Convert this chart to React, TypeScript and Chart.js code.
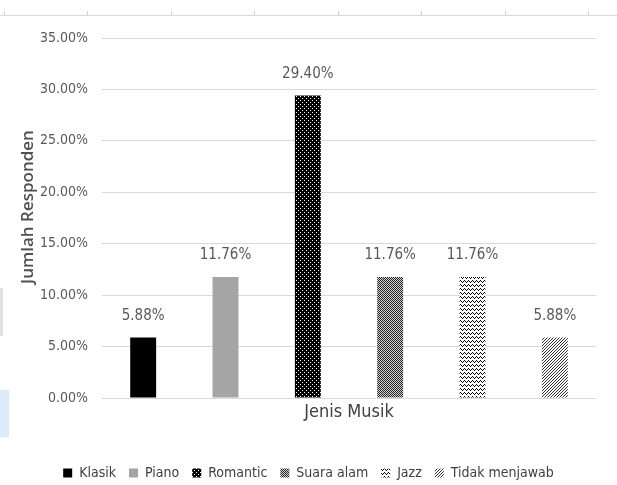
import React, { useEffect, useRef } from "react";
import { Chart, registerables } from "chart.js";

Chart.register(...registerables);

const categories = ["Jenis Musik"];
const seriesNames = ["Klasik", "Piano", "Romantic", "Suara alam", "Jazz", "Tidak menjawab"];
const seriesValues = [0.0588, 0.1176, 0.294, 0.1176, 0.1176, 0.0588];
const dataLabels = ["5.88%", "11.76%", "29.40%", "11.76%", "11.76%", "5.88%"];
const yMin = 0;
const yMax = 0.35;
const yStep = 0.05;
const yAxisTitle = "Jumlah Responden";

const NARROW = "'Liberation Sans Narrow', 'DejaVu Sans Condensed', sans-serif";

type Pt = [number, number];

function makeTile(
  ctx: CanvasRenderingContext2D,
  w: number,
  h: number,
  bg: string,
  fg: string,
  pts: Pt[]
): CanvasPattern | string {
  const c = document.createElement("canvas");
  c.width = w;
  c.height = h;
  const t = c.getContext("2d");
  if (!t) return fg;
  t.fillStyle = bg;
  t.fillRect(0, 0, w, h);
  t.fillStyle = fg;
  pts.forEach(([x, y]) => t.fillRect(x, y, 1, 1));
  return ctx.createPattern(c, "repeat") || fg;
}

function buildFills(ctx: CanvasRenderingContext2D) {
  return [
    "#000000",
    "#a5a5a5",
    makeTile(ctx, 4, 4, "#000000", "#ffffff", [
      [0, 0],
      [2, 2],
    ]),
    makeTile(ctx, 2, 2, "#d0d0d0", "#262626", [
      [0, 0],
      [1, 1],
    ]),
    makeTile(ctx, 4, 4, "#ffffff", "#000000", [
      [0, 0],
      [1, 1],
      [2, 2],
      [3, 1],
    ]),
    makeTile(ctx, 3, 3, "#ffffff", "#303030", [
      [2, 0],
      [1, 1],
      [0, 2],
    ]),
  ];
}

const valueLabelPlugin = {
  id: "valueLabels",
  afterDatasetsDraw(chart: any) {
    const ctx = chart.ctx as CanvasRenderingContext2D;
    ctx.save();
    ctx.font = `15px ${NARROW}`;
    ctx.fillStyle = "#595959";
    ctx.textAlign = "center";
    ctx.textBaseline = "alphabetic";
    chart.data.datasets.forEach((_ds: any, i: number) => {
      const meta = chart.getDatasetMeta(i);
      const el = meta.data[0];
      if (!el) return;
      ctx.fillText(dataLabels[i], el.x, el.y - 18);
    });
    ctx.restore();
  },
};

const yTitlePlugin = {
  id: "yTitle",
  afterDraw(chart: any) {
    const ctx = chart.ctx as CanvasRenderingContext2D;
    const area = chart.chartArea;
    ctx.save();
    ctx.translate(28, (area.top + area.bottom) / 2 - 11);
    ctx.rotate(-Math.PI / 2);
    ctx.font = "600 17px 'Open Sans', sans-serif";
    ctx.fillStyle = "#505050";
    ctx.textAlign = "center";
    ctx.textBaseline = "middle";
    ctx.fillText(yAxisTitle, 0, 0);
    ctx.restore();
  },
};

export default function App() {
  const ref = useRef<HTMLCanvasElement | null>(null);

  useEffect(() => {
    const canvas = ref.current;
    if (!canvas) return;
    const ctx = canvas.getContext("2d");
    if (!ctx) return;
    const fills = buildFills(ctx);

    const chart = new Chart(canvas, {
      type: "bar",
      data: {
        labels: categories,
        datasets: seriesNames.map((name, i) => ({
          label: name,
          data: [seriesValues[i]],
          backgroundColor: fills[i] as any,
          borderWidth: 0,
          categoryPercentage: 1,
          barPercentage: 0.315,
        })),
      },
      options: {
        animation: false,
        responsive: false,
        maintainAspectRatio: false,
        layout: { padding: { top: 38, right: 0, left: 0, bottom: -5 } },
        plugins: {
          tooltip: { enabled: false },
          title: { display: false },
          legend: {
            display: true,
            position: "bottom",
            labels: {
              boxWidth: 9,
              boxHeight: 9,
              padding: 13,
              color: "#404040",
              font: { size: 14, family: NARROW },
            },
          },
        },
        scales: {
          x: {
            type: "category",
            afterFit(scale: any) {
              scale.height = 55;
            },
            grid: { display: false, drawTicks: false },
            border: { display: false },
            ticks: {
              color: "#404040",
              font: { size: 18, family: NARROW },
              padding: 4,
            },
          },
          y: {
            min: yMin,
            max: yMax,
            afterFit(scale: any) {
              scale.width = 102;
            },
            grid: { color: "#d9d9d9", lineWidth: 1, drawTicks: false },
            border: { display: false },
            ticks: {
              stepSize: yStep,
              color: "#595959",
              font: { size: 14, family: NARROW },
              padding: 14,
              callback: (v: any) => (Number(v) * 100).toFixed(2) + "%",
            },
          },
          yRightSpace: {
            type: "linear",
            position: "right",
            display: true,
            afterFit(scale: any) {
              scale.width = 21;
            },
            grid: { display: false, drawTicks: false },
            border: { display: false },
            ticks: { display: false },
          },
        },
      },
      plugins: [valueLabelPlugin, yTitlePlugin],
    });

    return () => chart.destroy();
  }, []);

  return (
    <div
      style={{
        position: "fixed",
        left: 0,
        top: 0,
        width: 617,
        height: 485,
        background: "#ffffff",
        overflow: "hidden",
      }}
    >
      <div
        style={{
          position: "absolute",
          left: 0,
          top: 15,
          width: 617,
          height: 1,
          background: "#d9d9d9",
        }}
      />
      <div
        style={{
          position: "absolute",
          left: 4,
          top: 11,
          width: 613,
          height: 4,
          background:
            "repeating-linear-gradient(to right, #cfcfcf 0px, #cfcfcf 1px, transparent 1px, transparent 83.5px)",
        }}
      />
      <div
        style={{
          position: "absolute",
          left: 0,
          top: 288,
          width: 3,
          height: 48,
          background: "#e0e0e0",
        }}
      />
      <div
        style={{
          position: "absolute",
          left: 0,
          top: 390,
          width: 9,
          height: 47,
          background: "#dceafa",
        }}
      />
      <canvas
        ref={ref}
        width={617}
        height={485}
        style={{ position: "absolute", left: 0, top: 0, width: 617, height: 485 }}
      />
    </div>
  );
}
